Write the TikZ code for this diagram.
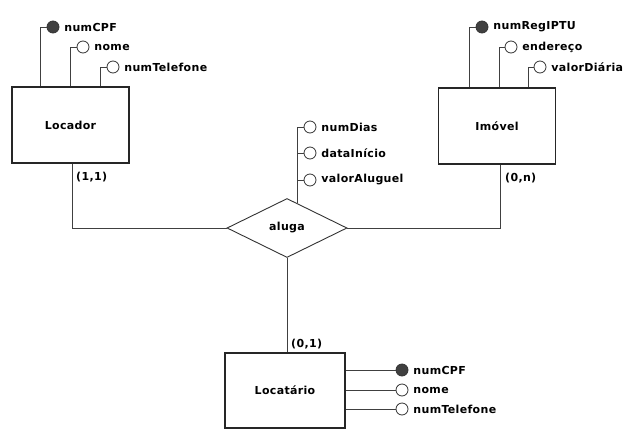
\documentclass[tikz,border=0pt]{standalone}
\usepackage{fontspec}
\newfontfamily\erfont[LetterSpace=3]{DejaVu Sans}
\usetikzlibrary{shapes.geometric}
\newcommand{\ft}        {\erfont\bfseries\fontsize{11}{12}\selectfont}

\begin{document}
\begin{tikzpicture}[x=1pt,y=-1pt,
  entidade/.style={draw=black!85,line width=1.2pt,minimum width=117pt,minimum height=76pt,inner sep=0pt,font=\ft},
  relac/.style={diamond,draw=black!80,line width=0.9pt,minimum width=120pt,minimum height=59pt,aspect=2.03,inner sep=0pt,font=\ft},
  attr/.style={circle,draw=black!80,line width=0.8pt,fill=white,minimum size=12pt,inner sep=0pt,
               label={[font=\ft,label distance=1.5pt]right:#1}},
  chave/.style={attr=#1,fill=black!75},
  lig/.style={draw=black!75,line width=0.9pt},
  card/.style={font=\ft,anchor=west,inner sep=0pt}]
  \useasboundingbox[fill=white] (0,0) rectangle (636,436);
  \node[entidade] (locador) at (70.5,125) {Locador};
  \node[entidade] (imovel) at (497,126) {Imóvel};
  \node[relac] (aluga) at (287,228) {aluga};
  \node[entidade,minimum width=120pt,minimum height=75pt] (locatario) at (285,390.5) {Locatário};
  \node[chave=numCPF] (cpf1) at (53,27) {};
  \node[attr=nome] (nome1) at (83,47) {};
  \node[attr=numTelefone] (tel1) at (113,67) {};
  \draw[lig] ([xshift=-30.5pt]locador.north) |- (cpf1.west);
  \draw[lig] ([xshift=-0.5pt]locador.north) |- (nome1.west);
  \draw[lig] ([xshift=29.5pt]locador.north) |- (tel1.west);
  \node[chave=numRegIPTU] (iptu) at (482,27) {};
  \node[attr=endereço] (end) at (511,47) {};
  \node[attr=valorDiária] (diaria) at (540,67) {};
  \draw[lig] ([xshift=-28pt]imovel.north) |- (iptu.west);
  \draw[lig] ([xshift=2pt]imovel.north) |- (end.west);
  \draw[lig] ([xshift=31pt]imovel.north) |- (diaria.west);
  \node[attr=numDias] (dias) at (310,127) {};
  \node[attr=dataInício] (inicio) at (310,153) {};
  \node[attr=valorAluguel] (valor) at (310,180) {};
  \draw[lig] (dias.west) -| (aluga.66);
  \draw[lig] (inicio.west) -- (inicio.west -| aluga.66);
  \draw[lig] (valor.west) -- (valor.west -| aluga.66);
  \node[chave=numCPF] (cpf3) at (402,370) {};
  \node[attr=nome] (nome3) at (402,390) {};
  \node[attr=numTelefone] (tel3) at (402,409) {};
  \draw[lig] (locatario.east |- cpf3.west) -- (cpf3.west);
  \draw[lig] (locatario.east |- nome3.west) -- (nome3.west);
  \draw[lig] (locatario.east |- tel3.west) -- (tel3.west);
  \draw[lig] ([xshift=1.5pt]locador.south) |- (aluga.west);
  \draw[lig] ([xshift=3pt]imovel.south) |- (aluga.east);
  \draw[lig] (aluga.south) -- (aluga.south |- locatario.north);
  \node[card] (c1) at (76,177) {(1,1)};
  \node[card] (c2) at (505,178) {(0,n)};
  \node[card] (c3) at (291,344) {(0,1)};
\end{tikzpicture}
\end{document}
